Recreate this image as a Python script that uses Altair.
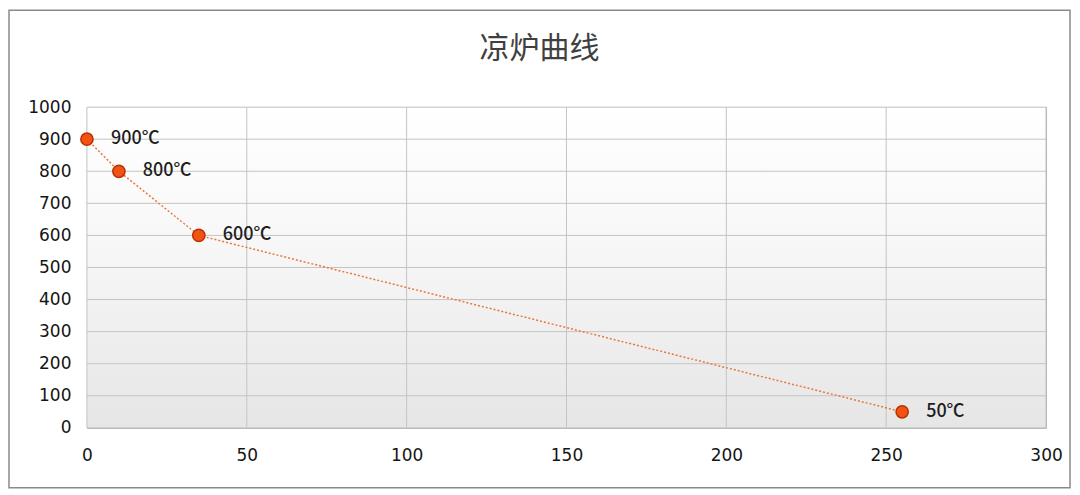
import altair as alt
import pandas as pd

times = [0, 10, 35, 255]
temps = [900, 800, 600, 50]
labels = ["900℃", "800℃", "600℃", "50℃"]
x_ticks = [0, 50, 100, 150, 200, 250, 300]
y_ticks = [0, 100, 200, 300, 400, 500, 600, 700, 800, 900, 1000]
title_text = ["凉炉曲线"]

df = pd.DataFrame({"t": times, "temp": temps, "label": labels})
gx = pd.DataFrame({"v": x_ticks})
gy = pd.DataFrame({"v": y_ticks})

W, H = 960, 321
FONT = "Noto Sans CJK SC"
LFONT = "DejaVu Sans"

xs = alt.Scale(domain=[0, 300], nice=False, zero=False)
ys = alt.Scale(domain=[0, 1000], nice=False)

xaxis = alt.Axis(
    values=x_ticks, title=None, grid=False, domain=False, ticks=False,
    labelFont=LFONT, labelFontSize=17, labelColor="#141414",
    labelPadding=20, labelFlush=False, labelOverlap=False, format="d")
yaxis = alt.Axis(
    values=y_ticks, title=None, grid=False, domain=False, ticks=False,
    labelFont=LFONT, labelFontSize=17, labelColor="#141414",
    labelPadding=16, labelOverlap=False, format="d")

frame = alt.Chart(pd.DataFrame({"a": [0]})).mark_rect(
    fillOpacity=0, stroke="#8a8a8a", strokeWidth=1.5
).encode(x=alt.value(-78), x2=alt.value(984), y=alt.value(-97), y2=alt.value(381))

title = alt.Chart(pd.DataFrame({"s": title_text})).mark_text(
    font=FONT, fontSize=30, color="#404040", align="center", baseline="middle"
).encode(x=alt.value(453), y=alt.value(-58), text="s:N")

bg = alt.Chart(pd.DataFrame({"a": [0]})).mark_rect(
    color=alt.Gradient(
        gradient="linear", x1=0, y1=0, x2=0, y2=1,
        stops=[alt.GradientStop(offset=0, color="#ffffff"),
               alt.GradientStop(offset=0.4, color="#f8f8f8"),
               alt.GradientStop(offset=1, color="#e6e6e6")]
    )
).encode(x=alt.value(0), x2=alt.value(W), y=alt.value(0), y2=alt.value(H))

gridx = alt.Chart(gx).mark_rule(color="#c4c4c4", strokeWidth=1).encode(
    x=alt.X("v:Q", scale=xs, axis=xaxis), y=alt.value(0), y2=alt.value(H))
gridy = alt.Chart(gy).mark_rule(color="#c4c4c4", strokeWidth=1).encode(
    y=alt.Y("v:Q", scale=ys, axis=yaxis), x=alt.value(0), x2=alt.value(W))

base = alt.Chart(df)
xenc = alt.X("t:Q", scale=xs, axis=xaxis)
yenc = alt.Y("temp:Q", scale=ys, axis=yaxis)

line = base.mark_line(color="#e8783a", strokeWidth=1.5, strokeDash=[2, 2]).encode(x=xenc, y=yenc)
pts = base.mark_point(shape="circle", filled=True, size=150, fill="#f25315",
                      stroke="#b83200", strokeWidth=1.5, opacity=1).encode(x=xenc, y=yenc)
txt = base.mark_text(align="left", baseline="middle", dx=24, font=FONT,
                     fontSize=18, fontWeight=500, color="#1e1e1e").encode(
    x=xenc, y=yenc, text="label:N")

chart = alt.layer(frame, title, bg, gridx, gridy, line, pts, txt).properties(
    width=W, height=H,
    autosize=alt.AutoSizeParams(type="none"),
    padding={"left": 79, "top": 99, "right": 26, "bottom": 64},
    background="#ffffff",
).configure_view(stroke="#a8a8a8", strokeWidth=1)

chart.save("out.html", embed_options={"renderer": "svg", "actions": False})
